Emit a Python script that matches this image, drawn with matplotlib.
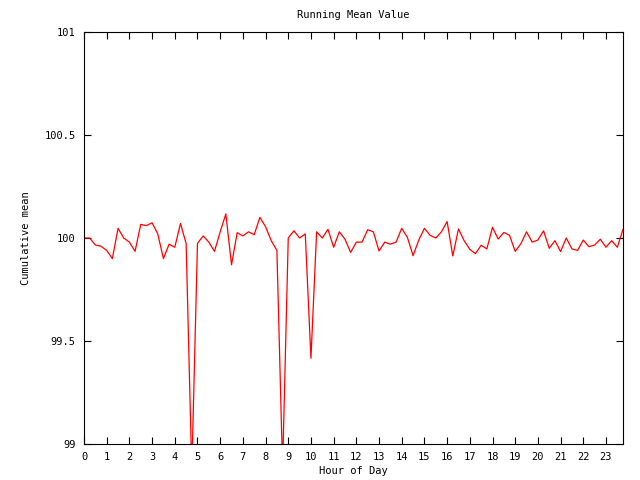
import matplotlib
matplotlib.use("Agg")
import matplotlib.pyplot as plt
import numpy as np

hours = np.arange(96) * 0.25
values = [
    100.00, 100.00, 99.966, 99.96, 99.94, 99.90, 100.047, 100.00,
    99.98, 99.935, 100.066, 100.06, 100.074, 100.02, 99.90, 99.97,
    99.955, 100.07, 99.974, 98.87, 99.974, 100.01, 99.98, 99.935,
    100.03, 100.117, 99.87, 100.026, 100.01, 100.03, 100.016, 100.10,
    100.055, 99.987, 99.94, 98.88, 100.0, 100.035, 100.0, 100.02,
    99.416, 100.03, 100.0, 100.042, 99.955, 100.03, 99.994, 99.93,
    99.98, 99.98, 100.04, 100.03, 99.937, 99.98, 99.97, 99.98,
    100.047, 100.003, 99.914, 99.99, 100.047, 100.013, 100.0, 100.03,
    100.08, 99.913, 100.044, 99.987, 99.945, 99.924, 99.965, 99.947,
    100.052, 99.995, 100.027, 100.013, 99.935, 99.972, 100.03, 99.98,
    99.99, 100.035, 99.95, 99.987, 99.934, 100.0, 99.947, 99.94,
    99.99, 99.958, 99.966, 99.994, 99.955, 99.987, 99.955, 100.042,
]
xticks = list(range(24))
yticks = [99, 99.5, 100, 100.5, 101]
ytick_labels = ["99", "99.5", "100", "100.5", "101"]

plt.rcParams['font.family'] = ['DejaVu Sans Mono']
fig = plt.figure(figsize=(6.4, 4.8), dpi=100)
ax = fig.add_axes([84/640, 1-444/480, (623-84)/640, (444-32)/480])
ax.plot(hours, values, color='#ff0000', lw=0.9)
ax.set_xlim(0, 23.75)
ax.set_ylim(99, 101)
ax.set_xticks(xticks)
ax.set_xticklabels([str(t) for t in xticks])
ax.set_yticks(yticks)
ax.set_yticklabels(ytick_labels)
ax.tick_params(direction='in', length=5, width=0.8, top=True, right=True,
               labelsize=7.5, pad=6, colors='black')
for s in ax.spines.values():
    s.set_linewidth(0.8)
ax.set_xlabel("Hour of Day", fontsize=7.5, labelpad=3)
ax.set_ylabel("Cumulative mean", fontsize=7.5, labelpad=10)
fig.text(353/640, 1-15/480, "Running Mean Value", ha='center', va='center', fontsize=7.5)
fig.savefig("out.png", dpi=100)
